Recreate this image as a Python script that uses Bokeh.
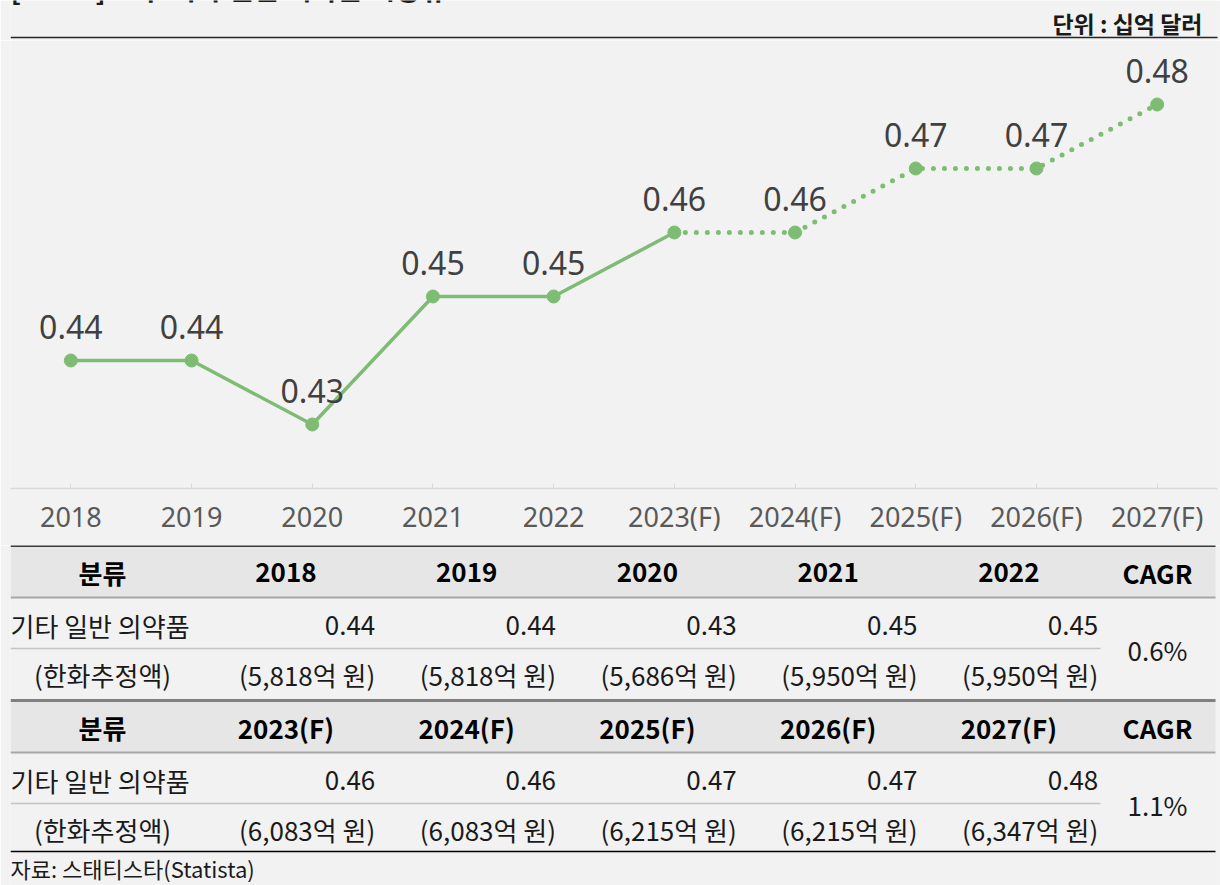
from bokeh.plotting import figure
from bokeh.models import ColumnDataSource, FactorRange, Range1d
from bokeh.layouts import column
from bokeh.core.properties import value
from bokeh.embed import file_html
from bokeh.resources import INLINE

# ---------------- data ----------------
years = ["2018", "2019", "2020", "2021", "2022",
         "2023(F)", "2024(F)", "2025(F)", "2026(F)", "2027(F)"]
market = [0.44, 0.44, 0.43, 0.45, 0.45, 0.46, 0.46, 0.47, 0.47, 0.48]
actual_last = "2023(F)"   # solid line up to here, dotted afterwards

title_text = "[표 2.2] 호주 기타 일반 의약품 시장규모"
unit_text = "단위 : 십억 달러"
source_text = "자료: 스태티스타(Statista)"

row_label = "기타 일반 의약품"
row_label2 = "(한화추정액)"
head_label = "분류"
cagr_label = "CAGR"

years_a = ["2018", "2019", "2020", "2021", "2022"]
values_a = [0.44, 0.44, 0.43, 0.45, 0.45]
krw_a = ["(5,818억 원)", "(5,818억 원)", "(5,686억 원)", "(5,950억 원)", "(5,950억 원)"]
cagr_a = "0.6%"

years_b = ["2023(F)", "2024(F)", "2025(F)", "2026(F)", "2027(F)"]
values_b = [0.46, 0.46, 0.47, 0.47, 0.48]
krw_b = ["(6,083억 원)", "(6,083억 원)", "(6,215억 원)", "(6,215억 원)", "(6,347억 원)"]
cagr_b = "1.1%"

# ---------------- style ----------------
BG = "#f2f2f2"
GREEN = "#7ebc74"
W = 1220
LB, RB = 10, 3          # left / right borders shared by every figure
KR = value("Noto Sans CJK KR")


def pixel_fig(h):
    f = figure(width=W, height=h, x_range=Range1d(LB, W - RB), y_range=Range1d(h, 0),
               output_backend="svg", toolbar_location=None,
               x_axis_type=None, y_axis_type=None,
               min_border_left=LB, min_border_right=RB, min_border_top=0,
               min_border_bottom=0,
               background_fill_color=BG, border_fill_color=BG,
               outline_line_color=None)
    f.grid.visible = False
    return f


# ---------------- header ----------------
head = pixel_fig(40)
head.text(x=[10], y=[7], text=[title_text], text_font=KR, text_font_size="28px",
          text_font_style="bold", text_color="#1a1a1a", text_baseline="bottom")
head.text(x=[1202], y=[22], text=[unit_text], text_font=KR, text_font_size="23px",
          text_font_style="bold", text_color="#1a1a1a", text_align="right",
          text_baseline="middle")
head.segment(x0=[10], y0=[37], x1=[W], y1=[37], line_color="#262626", line_width=1.5)

# ---------------- chart ----------------
p = figure(width=W, height=505, x_range=FactorRange(*years), y_range=Range1d(0.42, 0.49),
           output_backend="svg", toolbar_location=None,
           min_border_left=LB, min_border_right=RB, min_border_top=0, min_border_bottom=57,
           background_fill_color=BG, border_fill_color=BG, outline_line_color=None)
p.grid.visible = False
p.yaxis.visible = False
ax = p.xaxis[0]
ax.axis_line_color = "#d9d9d9"
ax.axis_line_width = 1.5
ax.major_tick_in = 5
ax.major_tick_out = 0
ax.major_tick_line_color = "#d9d9d9"
ax.minor_tick_line_color = None
ax.major_label_text_font = "Noto Sans"
ax.major_label_text_font_size = "27px"
ax.major_label_text_color = "#595959"
ax.major_label_standoff = 9

k = years.index(actual_last)
src_all = ColumnDataSource(dict(x=years, y=market, lab=[f"{v:.2f}" for v in market]))
p.line(x=years[:k + 1], y=market[:k + 1], line_color=GREEN, line_width=3.5)
p.line(x=years[k:], y=market[k:], line_color=GREEN, line_width=5,
       line_dash="0 11", line_cap="round")
p.scatter(x="x", y="y", source=src_all, size=13, fill_color=GREEN, line_color=GREEN)
p.text(x="x", y="y", text="lab", source=src_all, text_align="center",
       text_baseline="alphabetic", y_offset=-34, text_font=value("Noto Sans"),
       text_font_size="32px", text_color="#404040")

# ---------------- table ----------------
t = pixel_fig(340)
X0, X1 = 10, 1215
col_w = 180.75
col_left0 = 195
cagr_x = 1157
line_end = 1100
FS = "26px"

def col_right(i):
    return col_left0 + col_w * (i + 1)

def col_center(i):
    return col_left0 + col_w * (i + 0.5)

blocks = [(0, years_a, values_a, krw_a, cagr_a), (155, years_b, values_b, krw_b, cagr_b)]
for top, yrs, vals, krw, cg in blocks:
    # header background
    t.quad(left=[X0], right=[X1], top=[top], bottom=[top + 51], fill_color="#e6e6e6",
           line_color=None)
    hx = [102] + [col_center(i) for i in range(len(yrs))] + [cagr_x]
    ht = [head_label] + yrs + [cagr_label]
    t.text(x=hx, y=[top + 27] * len(hx), text=ht, text_font=KR, text_font_size="26px",
           text_font_style="bold", text_color="#000000", text_align="center",
           text_baseline="middle")
    # row 1
    t.text(x=[10], y=[top + 80], text=[row_label], text_font=KR, text_font_size=FS,
           text_color="#1a1a1a", text_baseline="middle")
    t.text(x=[col_right(i) - 1 for i in range(len(vals))], y=[top + 80] * len(vals),
           text=[f"{v:.2f}" for v in vals], text_font=KR, text_font_size=FS,
           text_color="#1a1a1a", text_align="right", text_baseline="middle")
    # row 2
    t.text(x=[102], y=[top + 129], text=[row_label2], text_font=KR, text_font_size=FS,
           text_color="#1a1a1a", text_align="center", text_baseline="middle")
    t.text(x=[col_right(i) - 1 for i in range(len(krw))], y=[top + 129] * len(krw),
           text=krw, text_font=KR, text_font_size=FS,
           text_color="#1a1a1a", text_align="right", text_baseline="middle")
    # cagr
    t.text(x=[cagr_x], y=[top + 104], text=[cg], text_font=KR, text_font_size=FS,
           text_color="#1a1a1a", text_align="center", text_baseline="middle")
    # separators
    t.segment(x0=[X0], y0=[top + 52], x1=[X1], y1=[top + 52], line_color="#a6a6a6",
              line_width=2)
    t.segment(x0=[X0], y0=[top + 103], x1=[line_end], y1=[top + 103], line_color="#c4c4c4",
              line_width=1.5)

t.segment(x0=[X0], y0=[0.5], x1=[X1], y1=[0.5], line_color="#000000", line_width=1.5)
t.segment(x0=[X0], y0=[155], x1=[X1], y1=[155], line_color="#808080", line_width=3)
t.segment(x0=[X0], y0=[306], x1=[X1], y1=[306], line_color="#000000", line_width=1.5)
t.text(x=[10], y=[322], text=[source_text], text_font=KR, text_font_size="22px",
       text_color="#1a1a1a", text_baseline="middle")

layout = column(head, p, t, spacing=0)
open("out.html", "w").write(file_html(layout, INLINE))
